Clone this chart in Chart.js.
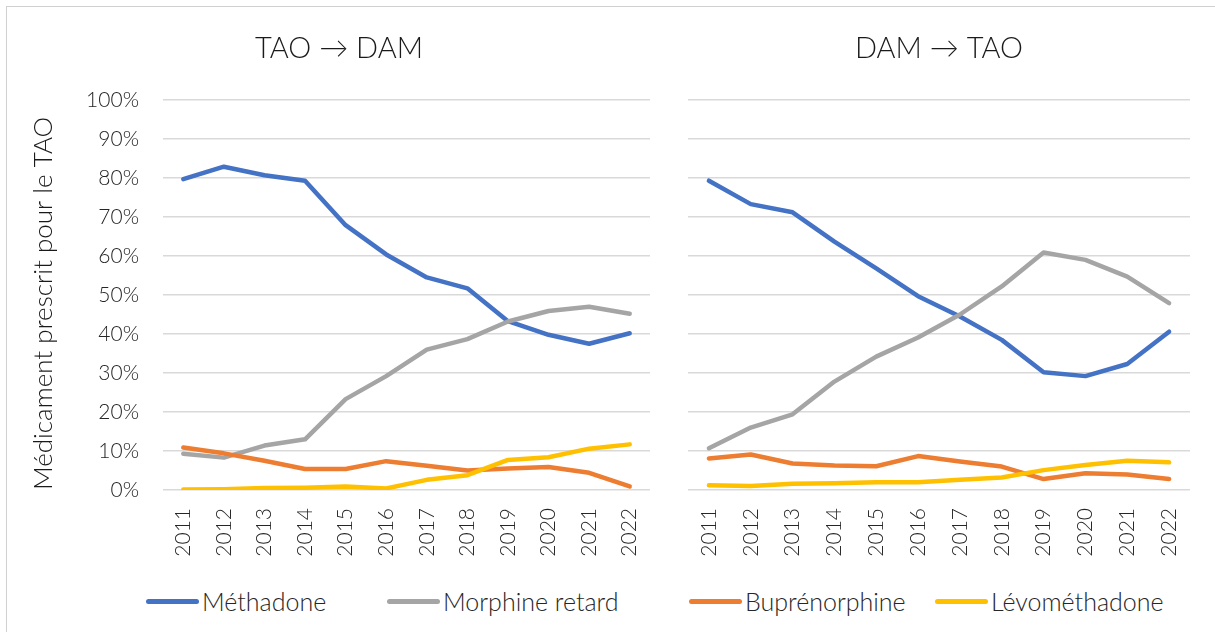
<!DOCTYPE html>
<html><head><meta charset="utf-8">
<script src="https://cdn.jsdelivr.net/npm/chart.js@4/dist/chart.umd.min.js"></script>
<style>
html,body{margin:0;padding:0;background:#fff;}
body{width:1215px;height:632px;overflow:hidden;position:relative;font-family:Lato,"Open Sans",sans-serif;}
#frame{position:absolute;left:6px;top:6px;width:1230px;height:650px;border:1.5px solid #d0d0d0;box-sizing:border-box;}
#cL{position:absolute;left:28px;top:0;}
#cR{position:absolute;left:688px;top:0;}
#legend{position:absolute;top:584px;left:0;width:1215px;height:34px;}
.item{position:absolute;top:0;height:34px;display:flex;align-items:center;font-size:25px;font-weight:300;color:#262626;white-space:nowrap;}
.sw{width:53px;height:5px;border-radius:3px;margin-right:3px;}
</style></head>
<body>
<div id="frame"></div>
<canvas id="cL" width="632" height="560"></canvas>
<canvas id="cR" width="527" height="560"></canvas>
<div id="legend"></div>
<script>
const years = ['2011','2012','2013','2014','2015','2016','2017','2018','2019','2020','2021','2022'];
const seriesNames = ['Méthadone','Morphine retard','Buprénorphine','Lévométhadone'];
const seriesColors = ['#4472C4','#A5A5A5','#ED7D31','#FFC000'];
const panelTitles = ['TAO \u2192 DAM','DAM \u2192 TAO'];
const yAxisTitle = 'Médicament prescrit pour le TAO';
const yTicks = [0,10,20,30,40,50,60,70,80,90,100];

// TAO -> DAM (%)
const methadoneL     = [79.7, 82.9, 80.7, 79.3, 67.9, 60.4, 54.5, 51.7, 43.3, 39.8, 37.5, 40.2];
const morphineL      = [ 9.3,  8.3, 11.4, 13.0, 23.3, 29.2, 36.0, 38.7, 43.2, 45.9, 47.0, 45.2];
const buprenorphineL = [10.9,  9.4,  7.5,  5.4,  5.4,  7.4,  6.2,  5.0,  5.5,  5.9,  4.4,  0.9];
const levoL          = [ 0.1,  0.2,  0.5,  0.6,  0.9,  0.4,  2.6,  3.8,  7.7,  8.4, 10.6, 11.7];

// DAM -> TAO (%)
const methadoneR     = [79.3, 73.3, 71.2, 63.7, 56.8, 49.7, 44.5, 38.5, 30.2, 29.2, 32.3, 40.6];
const morphineR      = [10.7, 16.0, 19.4, 27.8, 34.2, 39.1, 45.0, 52.2, 60.9, 59.0, 54.7, 47.9];
const buprenorphineR = [ 8.1,  9.1,  6.8,  6.3,  6.1,  8.7,  7.3,  6.0,  2.8,  4.3,  4.0,  2.8];
const levoR          = [ 1.2,  1.0,  1.6,  1.7,  2.0,  2.0,  2.6,  3.2,  5.1,  6.4,  7.5,  7.1];

const legendLeft = [146, 387, 689, 935];

const FONT = 'Lato, "Open Sans", sans-serif';
const GRID = '#d9d9d9';

function makeDatasets(arrs){
  return arrs.map((d,i)=>({
    label: seriesNames[i], data: d,
    borderColor: seriesColors[i], backgroundColor: seriesColors[i],
    borderWidth: 4.5, pointRadius: 0, pointHoverRadius: 0,
    borderCapStyle: 'round', borderJoinStyle: 'round', tension: 0,
    order: 4 - i
  }));
}

// keep the x-scale from reserving extra side padding for rotated labels
function noSidePad(s){ s.paddingLeft = 0; s.paddingRight = 0; }

function makeOptions(title, showY, yWidth, padRight){
  return {
    responsive: false, animation: false,
    layout: { padding: { left: 0, right: padRight, top: 0, bottom: 0 } },
    plugins: {
      legend: { display: false },
      tooltip: { enabled: false },
      title: {
        display: true, text: title, color: '#1a1a1a',
        font: { family: FONT, size: 29, weight: 300 },
        padding: { top: 31.6, bottom: 33.6 }
      }
    },
    scales: {
      x: {
        offset: true,
        grid: { display: false, drawTicks: false },
        border: { display: false },
        ticks: { color: '#262626', font: { family: FONT, size: 21, weight: 300 },
                 maxRotation: 90, minRotation: 90, padding: 18, autoSkip: false },
        afterFit: s => { s.height = 70; noSidePad(s); }
      },
      y: {
        min: 0, max: 100,
        afterBuildTicks: s => { s.ticks = yTicks.map(v => ({ value: v })); },
        grid: { color: GRID, lineWidth: 1.5, drawTicks: false },
        border: { display: false },
        ticks: { display: showY, color: '#262626', padding: 24,
                 font: { family: FONT, size: 21, weight: 300 },
                 callback: v => v + '%' },
        title: { display: showY, text: yAxisTitle, color: '#1a1a1a', align: 'start',
                 font: { family: FONT, size: 26, weight: 300 }, padding: { top: 0, bottom: 0 } },
        afterFit: s => { s.width = yWidth; }
      }
    }
  };
}

new Chart(document.getElementById('cL'), {
  type: 'line',
  data: { labels: years, datasets: makeDatasets([methadoneL, morphineL, buprenorphineL, levoL]) },
  options: makeOptions(panelTitles[0], true, 135, 10)
});
new Chart(document.getElementById('cR'), {
  type: 'line',
  data: { labels: years, datasets: makeDatasets([methadoneR, morphineR, buprenorphineR, levoR]) },
  options: makeOptions(panelTitles[1], false, 0, 25)
});

const lg = document.getElementById('legend');
seriesNames.forEach((n,i)=>{
  const it = document.createElement('div');
  it.className = 'item';
  it.style.left = legendLeft[i] + 'px';
  const sw = document.createElement('span');
  sw.className = 'sw'; sw.style.background = seriesColors[i];
  const tx = document.createElement('span');
  tx.textContent = n;
  it.appendChild(sw); it.appendChild(tx);
  lg.appendChild(it);
});
</script>
</body></html>
